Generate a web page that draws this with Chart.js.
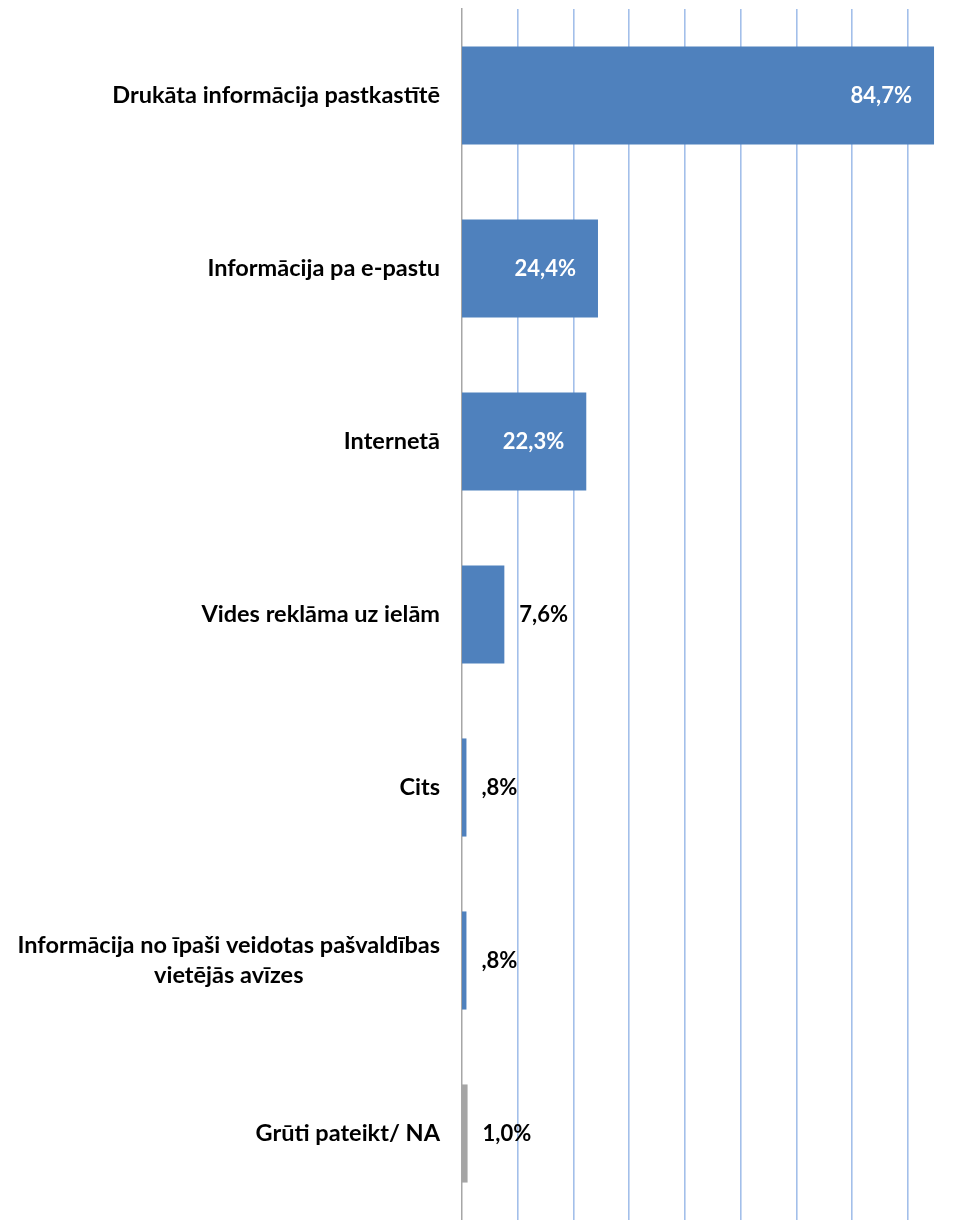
<!DOCTYPE html>
<html>
<head>
<meta charset="utf-8">
<script src="https://cdn.jsdelivr.net/npm/chart.js@4.4.0/dist/chart.umd.min.js"></script>
<style>
  html, body { margin: 0; padding: 0; background: #ffffff; }
  #wrap { width: 958px; height: 1220px; position: relative; }
</style>
</head>
<body>
<div id="wrap"><canvas id="chart"></canvas></div>
<script>
const categories = [
  "Drukāta informācija pastkastītē",
  "Informācija pa e-pastu",
  "Internetā",
  "Vides reklāma uz ielām",
  "Cits",
  ["Informācija no īpaši veidotas pašvaldības", "vietējās avīzes"],
  "Grūti pateikt/ NA",
];
const values = [84.7, 24.4, 22.3, 7.6, 0.8, 0.8, 1.0];
const barColors = ["#4f81bd", "#4f81bd", "#4f81bd", "#4f81bd", "#4f81bd", "#4f81bd", "#a5a5a5"];
const gridSteps = [10, 20, 30, 40, 50, 60, 70, 80];

const FONT = "Lato, 'Open Sans', sans-serif";

function fmt(v) {
  // Latvian style: comma decimal, leading zero dropped (",8%")
  let s = v.toFixed(1).replace(".", ",");
  if (s.startsWith("0")) s = s.slice(1);
  return s + "%";
}

// draws category names left of the axis and value labels on the bars
const labelPlugin = {
  id: "labels",
  afterDatasetsDraw(chart) {
    const ctx = chart.ctx;
    const y = chart.scales.y;
    const meta = chart.getDatasetMeta(0);
    ctx.save();
    ctx.textBaseline = "middle";

    ctx.font = "bold 23.5px " + FONT;
    categories.forEach((cat, i) => {
      const lines = Array.isArray(cat) ? cat : [cat];
      const cy = y.getPixelForValue(i);
      const widths = lines.map((l) => ctx.measureText(l).width);
      const maxW = Math.max(...widths);
      const right = chart.chartArea.left - 22;
      const centerX = Math.max(right - maxW / 2, maxW / 2 + 8);
      const lh = 30;
      ctx.fillStyle = "#000000";
      ctx.textAlign = "center";
      lines.forEach((l, k) => {
        ctx.fillText(l, centerX, cy + (k - (lines.length - 1) / 2) * lh);
      });
    });

    ctx.font = "bold 22px " + FONT;
    meta.data.forEach((bar, i) => {
      const txt = fmt(values[i]);
      const w = ctx.measureText(txt).width;
      const barLen = bar.x - bar.base;
      if (barLen > w + 40) {
        ctx.fillStyle = "#ffffff";
        ctx.textAlign = "right";
        ctx.fillText(txt, bar.x - 22, bar.y);
      } else {
        ctx.fillStyle = "#000000";
        ctx.textAlign = "left";
        ctx.fillText(txt, bar.x + 15, bar.y);
      }
    });
    ctx.restore();
  },
};

new Chart(document.getElementById("chart"), {
  type: "bar",
  data: {
    labels: categories,
    datasets: [
      {
        data: values,
        backgroundColor: barColors,
        borderWidth: 0,
        categoryPercentage: 1,
        barPercentage: 0.567,
      },
    ],
  },
  options: {
    indexAxis: "y",
    responsive: true,
    maintainAspectRatio: false,
    animation: false,
    layout: { padding: { top: 9, right: 0, bottom: -2, left: 0 } },
    plugins: {
      legend: { display: false },
      tooltip: { enabled: false },
    },
    scales: {
      x: {
        min: 0,
        max: 89,
        position: "top",
        afterBuildTicks(scale) {
          scale.ticks = gridSteps.map((v) => ({ value: v }));
        },
        afterFit(scale) {
          scale.height = 0;
        },
        ticks: { display: false },
        border: { display: false },
        grid: {
          color: "#a3bfea",
          lineWidth: 1.6,
          drawTicks: false,
        },
      },
      y: {
        afterFit(scale) {
          scale.width = 462;
        },
        ticks: { display: false },
        grid: { display: false, drawTicks: false },
        border: { display: true, color: "#a6a6a6", width: 1.5 },
      },
    },
  },
  plugins: [labelPlugin],
});
</script>
</body>
</html>
